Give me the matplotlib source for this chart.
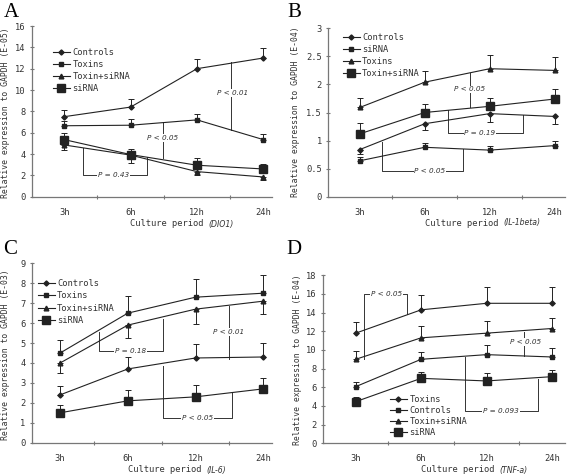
import matplotlib
matplotlib.use("Agg")
import numpy as np
import matplotlib.pyplot as plt
from matplotlib.lines import Line2D
from matplotlib.ticker import FuncFormatter

# ---------------- data ----------------
periods = ["3h", "6h", "12h", "24h"]

# Panel A (DIO1, E-05)
A_controls = [7.5, 8.4, 12.0, 13.0]
A_controls_err = [0.6, 0.8, 0.9, 0.95]
A_toxins = [6.65, 6.7, 7.2, 5.35]
A_toxins_err = [0.4, 0.6, 0.55, 0.5]
A_toxin_sirna = [4.85, 3.9, 2.35, 1.85]
A_toxin_sirna_err = [0.45, 0.7, 0.35, 0.25]
A_sirna = [5.35, 3.95, 2.95, 2.6]
A_sirna_err = [0.65, 0.5, 0.7, 0.5]

# Panel B (IL-1beta, E-04)
B_controls = [0.84, 1.30, 1.48, 1.43]
B_controls_err = [0.08, 0.12, 0.15, 0.14]
B_sirna = [0.64, 0.88, 0.83, 0.91]
B_sirna_err = [0.06, 0.08, 0.08, 0.09]
B_toxins = [1.59, 2.04, 2.28, 2.25]
B_toxins_err = [0.17, 0.2, 0.24, 0.23]
B_toxin_sirna = [1.12, 1.50, 1.61, 1.74]
B_toxin_sirna_err = [0.2, 0.15, 0.15, 0.17]

# Panel C (IL-6, E-03)
C_controls = [2.4, 3.7, 4.25, 4.3]
C_controls_err = [0.45, 0.6, 0.7, 0.7]
C_toxins = [4.5, 6.5, 7.3, 7.5]
C_toxins_err = [0.65, 0.85, 0.9, 0.9]
C_toxin_sirna = [4.0, 5.9, 6.7, 7.1]
C_toxin_sirna_err = [0.5, 0.65, 0.75, 0.65]
C_sirna = [1.5, 2.1, 2.3, 2.7]
C_sirna_err = [0.4, 0.55, 0.6, 0.55]

# Panel D (TNF-a, E-04)
D_toxins = [11.8, 14.3, 15.0, 15.0]
D_toxins_err = [1.2, 1.6, 1.7, 1.7]
D_controls = [6.07, 9.0, 9.5, 9.25]
D_controls_err = [0.5, 0.82, 1.0, 0.93]
D_toxin_sirna = [9.0, 11.3, 11.8, 12.3]
D_toxin_sirna_err = [0.9, 1.25, 1.3, 1.15]
D_sirna = [4.46, 6.96, 6.68, 7.14]
D_sirna_err = [0.54, 0.72, 0.9, 0.68]

# ---------------- styling ----------------
FONT = "DejaVu Sans Mono"
plt.rcParams["font.family"] = [FONT]
W, H = 567, 476
LINE_C = "#222222"
AX_C = "#777777"
TXT_C = "#333333"

MARKERS = {
    "diamond": dict(marker="D", markersize=2.6),
    "small_sq": dict(marker="s", markersize=3.0),
    "tri": dict(marker="^", markersize=3.4),
    "big_sq": dict(marker="s", markersize=6.0),
}

fig = plt.figure(figsize=(W / 100, H / 100), dpi=100)


def rect(left, right, top, bottom):
    return [left / W, 1 - bottom / H, (right - left) / W, (bottom - top) / H]


def fmt(v, _):
    return "%g" % v


def setup_axes(ax, xlim, ylim, ystep):
    ax.set_xlim(*xlim)
    ax.set_ylim(*ylim)
    for s in ("top", "right"):
        ax.spines[s].set_visible(False)
    for s in ("left", "bottom"):
        ax.spines[s].set_color(AX_C)
        ax.spines[s].set_linewidth(0.9)
    ax.set_yticks(np.arange(ylim[0], ylim[1] + ystep / 2, ystep))
    ax.yaxis.set_major_formatter(FuncFormatter(fmt))
    ax.tick_params(axis="y", direction="inout", length=3, width=0.8, color=AX_C,
                   labelsize=6.3, pad=3, labelcolor=TXT_C)
    ax.set_xticks(range(len(periods)))
    ax.set_xticklabels(periods)
    ax.tick_params(axis="x", which="major", length=0, labelsize=6.3, pad=8,
                   labelcolor=TXT_C)
    ax.set_xticks([0.5, 1.5, 2.5], minor=True)
    ax.tick_params(axis="x", which="minor", direction="inout", length=3,
                   width=0.8, color=AX_C)


def series(ax, values, errs, style, direction):
    x = list(range(len(values)))
    if direction > 0:
        yerr = [[0] * len(errs), errs]
    else:
        yerr = [errs, [0] * len(errs)]
    ax.errorbar(x, values, yerr=yerr, color=LINE_C, lw=0.8, elinewidth=0.7,
                capsize=2.5, capthick=0.7, **MARKERS[style])
    return Line2D([], [], color=LINE_C, lw=0.8, **MARKERS[style])


def bracket(ax, pts, label, tx, ty):
    xs = [p[0] for p in pts]
    ys = [p[1] for p in pts]
    ax.plot(xs, ys, color="#333333", lw=0.7)
    ax.text(tx, ty, label, fontsize=5.2, style="italic", family="DejaVu Sans",
            ha="center", va="center", color=TXT_C,
            bbox=dict(facecolor="white", edgecolor="none", pad=0.6))


def legend(ax, handles, labels, x, y, spacing):
    leg = ax.legend(handles, labels, loc="upper left", bbox_to_anchor=(x, y),
                    frameon=False, fontsize=6.3, handlelength=1.9,
                    handletextpad=0.3, borderpad=0, borderaxespad=0,
                    labelspacing=spacing)
    for t in leg.get_texts():
        t.set_color(TXT_C)


def xlabel(ax, px, py, tag):
    t = fig.text(px / W, 1 - py / H, "Culture period ", fontsize=6.3,
                 ha="left", va="center", color=TXT_C)
    ax.annotate(tag, xycoords=t, xy=(1, 0.5), va="center", ha="left",
                fontsize=5.6, style="italic", family="DejaVu Sans",
                color=TXT_C, annotation_clip=False)


def ylabel(px, py, tag):
    fig.text(px / W, 1 - py / H, "Relative expression to GAPDH " + tag,
             rotation=90, fontsize=5.9, ha="center", va="center",
             color=TXT_C)


def panel_letter(px, py, s):
    fig.text(px / W, 1 - py / H, s, fontsize=15, family="Liberation Serif",
             ha="left", va="top")


# ---------------- panel A ----------------
axA = fig.add_axes(rect(31.7, 272, 26, 196.7))
setup_axes(axA, (-0.49, 3.13), (0, 16), 2)
hA = [series(axA, A_controls, A_controls_err, "diamond", 1),
      series(axA, A_toxins, A_toxins_err, "small_sq", 1),
      series(axA, A_toxin_sirna, A_toxin_sirna_err, "tri", -1),
      series(axA, A_sirna, A_sirna_err, "big_sq", 1)]
legend(axA, hA, ["Controls", "Toxins", "Toxin+siRNA", "siRNA"], 0.089, 0.872, 0.36)
bracket(axA, [(0.29, 4.53), (0.29, 2.03), (1.245, 2.03), (1.245, 3.75)], "P = 0.43", 0.74, 2.03)
bracket(axA, [(1.486, 7.03), (1.486, 3.6)], "P < 0.05", 1.486, 5.47)
bracket(axA, [(2.515, 12.6), (2.515, 6.25)], "P < 0.01", 2.53, 9.7)
xlabel(axA, 130, 224, "(DIO1)")
ylabel(6, 113, "(E-05)")
panel_letter(4, 3, "A")

# ---------------- panel B ----------------
axB = fig.add_axes(rect(328, 565, 28.3, 196.7))
setup_axes(axB, (-0.49, 3.16), (0, 3), 0.5)
hB = [series(axB, B_controls, B_controls_err, "diamond", -1),
      series(axB, B_sirna, B_sirna_err, "small_sq", 1),
      series(axB, B_toxins, B_toxins_err, "tri", 1),
      series(axB, B_toxin_sirna, B_toxin_sirna_err, "big_sq", 1)]
legend(axB, hB, ["Controls", "siRNA", "Toxins", "Toxin+siRNA"], 0.063, 0.972, 0.36)
bracket(axB, [(1.69, 2.21), (1.69, 1.60)], "P < 0.05", 1.69, 1.91)
bracket(axB, [(1.365, 1.545), (1.365, 1.14), (2.51, 1.14), (2.51, 1.455)], "P = 0.19", 1.85, 1.14)
bracket(axB, [(0.343, 0.98), (0.343, 0.463), (1.59, 0.463), (1.59, 0.85)], "P < 0.05", 1.08, 0.463)
xlabel(axB, 425, 223, "(IL-1beta)")
ylabel(296, 112, "(E-04)")
panel_letter(287, 3, "B")

# ---------------- panel C ----------------
axC = fig.add_axes(rect(31.7, 272, 263.3, 442.7))
setup_axes(axC, (-0.42, 3.13), (0, 9), 1)
hC = [series(axC, C_controls, C_controls_err, "diamond", 1),
      series(axC, C_toxins, C_toxins_err, "small_sq", 1),
      series(axC, C_toxin_sirna, C_toxin_sirna_err, "tri", -1),
      series(axC, C_sirna, C_sirna_err, "big_sq", 1)]
legend(axC, hC, ["Controls", "Toxins", "Toxin+siRNA", "siRNA"], 0.026, 0.911, 0.36)
bracket(axC, [(0.57, 5.55), (0.57, 4.59), (1.52, 4.59), (1.52, 6.22)], "P = 0.18", 1.04, 4.59)
bracket(axC, [(2.49, 6.86), (2.49, 4.2)], "P < 0.01", 2.49, 5.55)
bracket(axC, [(1.52, 3.87), (1.52, 1.26), (2.54, 1.26), (2.54, 2.52)], "P < 0.05", 2.03, 1.26)
xlabel(axC, 128, 470, "(IL-6)")
ylabel(6, 355, "(E-03)")
panel_letter(3, 240, "C")

# ---------------- panel D ----------------
axD = fig.add_axes(rect(323, 565, 275.3, 443.3))
setup_axes(axD, (-0.5, 3.2), (0, 18), 2)
hD = [series(axD, D_toxins, D_toxins_err, "diamond", 1),
      series(axD, D_controls, D_controls_err, "small_sq", 1),
      series(axD, D_toxin_sirna, D_toxin_sirna_err, "tri", 1),
      series(axD, D_sirna, D_sirna_err, "big_sq", 1)]
legend(axD, hD, ["Toxins", "Controls", "Toxin+siRNA", "siRNA"], 0.277, 0.285, 0.22)
bracket(axD, [(0.127, 9.0), (0.127, 15.96), (0.79, 15.96), (0.79, 13.86)], "P < 0.05", 0.47, 15.96)
bracket(axD, [(2.58, 11.93), (2.58, 9.36)], "P < 0.05", 2.6, 10.86)
bracket(axD, [(1.67, 9.29), (1.67, 3.46), (2.78, 3.46), (2.78, 6.86)], "P = 0.093", 2.22, 3.46)
xlabel(axD, 421, 470, "(TNF-a)")
ylabel(298, 360, "(E-04)")
panel_letter(286, 240, "D")

fig.savefig("out.png", dpi=100)
